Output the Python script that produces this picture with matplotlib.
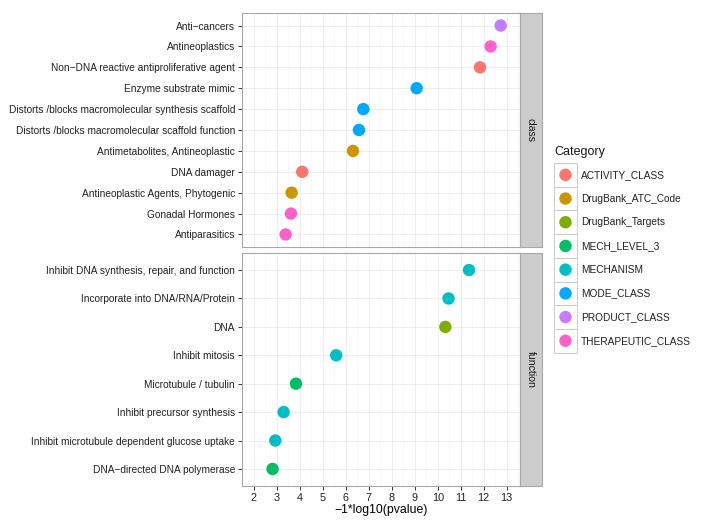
import numpy as np
import matplotlib
matplotlib.use("Agg")
import matplotlib.pyplot as plt
from matplotlib.patches import Rectangle

plt.rcParams["font.family"] = ["Liberation Sans", "DejaVu Sans"]

CATEGORIES = ["ACTIVITY_CLASS", "DrugBank_ATC_Code", "DrugBank_Targets",
              "MECH_LEVEL_3", "MECHANISM", "MODE_CLASS", "PRODUCT_CLASS",
              "THERAPEUTIC_CLASS"]
COLORS = {
    "ACTIVITY_CLASS":    "#F8766D",
    "DrugBank_ATC_Code": "#CD9600",
    "DrugBank_Targets":  "#7CAE00",
    "MECH_LEVEL_3":      "#00BE67",
    "MECHANISM":         "#00BFC4",
    "MODE_CLASS":        "#00A9FF",
    "PRODUCT_CLASS":     "#C77CFF",
    "THERAPEUTIC_CLASS": "#FF61CC",
}

M = "\u2212"
# top panel ("class"), listed top to bottom
class_terms = ["Anti" + M + "cancers", "Antineoplastics",
               "Non" + M + "DNA reactive antiproliferative agent",
               "Enzyme substrate mimic",
               "Distorts /blocks macromolecular synthesis scaffold",
               "Distorts /blocks macromolecular scaffold function",
               "Antimetabolites, Antineoplastic", "DNA damager",
               "Antineoplastic Agents, Phytogenic", "Gonadal Hormones",
               "Antiparasitics"]
class_values = [12.74, 12.30, 11.84, 9.08, 6.76, 6.57, 6.31, 4.10, 3.64, 3.61, 3.38]
class_cats = ["PRODUCT_CLASS", "THERAPEUTIC_CLASS", "ACTIVITY_CLASS", "MODE_CLASS",
              "MODE_CLASS", "MODE_CLASS", "DrugBank_ATC_Code", "ACTIVITY_CLASS",
              "DrugBank_ATC_Code", "THERAPEUTIC_CLASS", "THERAPEUTIC_CLASS"]

# bottom panel ("function"), listed top to bottom
function_terms = ["Inhibit DNA synthesis, repair, and function",
                  "Incorporate into DNA/RNA/Protein", "DNA", "Inhibit mitosis",
                  "Microtubule / tubulin", "Inhibit precursor synthesis",
                  "Inhibit microtubule dependent glucose uptake",
                  "DNA" + M + "directed DNA polymerase"]
function_values = [11.36, 10.47, 10.33, 5.58, 3.83, 3.29, 2.93, 2.81]
function_cats = ["MECHANISM", "MECHANISM", "DrugBank_Targets", "MECHANISM",
                 "MECH_LEVEL_3", "MECHANISM", "MECHANISM", "MECH_LEVEL_3"]

x_ticks = list(range(2, 14))

W, H = 704, 530
fig = plt.figure(figsize=(W / 100, H / 100), dpi=100)


def fx(px):
    return px / W


def fy(py):
    return 1 - py / H


def panel(top, bottom, terms, values, cats, strip, show_x):
    ax = fig.add_axes([fx(242), fy(bottom), fx(520 - 242), fy(top) - fy(bottom)])
    n = len(terms)
    ypos = np.arange(n)[::-1]
    ax.scatter(values, ypos, s=80, c=[COLORS[c] for c in cats],
               edgecolors="none", zorder=3)
    ax.set_xlim(1.48, 13.58)
    ax.set_ylim(-0.6, n - 0.4)
    ax.set_yticks(ypos)
    ax.set_yticklabels(terms)
    ax.set_xticks(x_ticks)
    ax.set_xticks(np.arange(1.5, 14, 1), minor=True)
    ax.grid(which="major", color="#EBEBEB", lw=0.6, zorder=0)
    ax.grid(which="minor", axis="x", color="#F6F6F6", lw=0.5, zorder=0)
    ax.tick_params(axis="y", which="minor", left=False)
    ax.tick_params(axis="x", which="minor", bottom=False)
    ax.tick_params(axis="y", length=3, width=0.7, color="#333333", pad=2,
                   labelsize=7.3, labelcolor="#222222")
    ax.tick_params(axis="x", length=3, width=0.7, color="#333333", pad=2,
                   labelsize=7.8, labelcolor="#222222")
    if not show_x:
        ax.tick_params(axis="x", bottom=False, labelbottom=False)
    for sp in ax.spines.values():
        sp.set_color("#A8A8A8")
        sp.set_linewidth(0.8)
    ax.set_axisbelow(True)

    sax = fig.add_axes([fx(520), fy(bottom), fx(542 - 520), fy(top) - fy(bottom)])
    sax.set_facecolor("#CCCCCC")
    sax.set_xticks([])
    sax.set_yticks([])
    for sp in sax.spines.values():
        sp.set_color("#A8A8A8")
        sp.set_linewidth(0.8)
    sax.text(0.5, 0.5, strip, rotation=-90, ha="center", va="center",
             fontsize=7.6, color="#1A1A1A", transform=sax.transAxes)
    return ax


panel(13, 247, class_terms, class_values, class_cats, "class", False)
ax2 = panel(253, 486, function_terms, function_values, function_cats, "function", True)
ax2.set_xlabel("\u22121*log10(pvalue)", fontsize=8.8, labelpad=1)

# legend
lax = fig.add_axes([0, 0, 1, 1])
lax.set_xlim(0, W)
lax.set_ylim(H, 0)
lax.axis("off")
lax.text(554, 152, "Category", fontsize=9, va="center", ha="left", color="#1A1A1A")
key_top, key_h = 163, 23.7
for i, cat in enumerate(CATEGORIES):
    y0 = key_top + i * key_h
    lax.add_patch(Rectangle((554, y0), 23, key_h, facecolor="white",
                            edgecolor="#CCCCCC", lw=0.7))
    lax.scatter([565.5], [y0 + key_h / 2], s=80, color=COLORS[cat],
                edgecolors="none")
    lax.text(581, y0 + key_h / 2, cat, fontsize=7.3, va="center", ha="left",
             color="#222222")

fig.savefig("out.png", dpi=100)
